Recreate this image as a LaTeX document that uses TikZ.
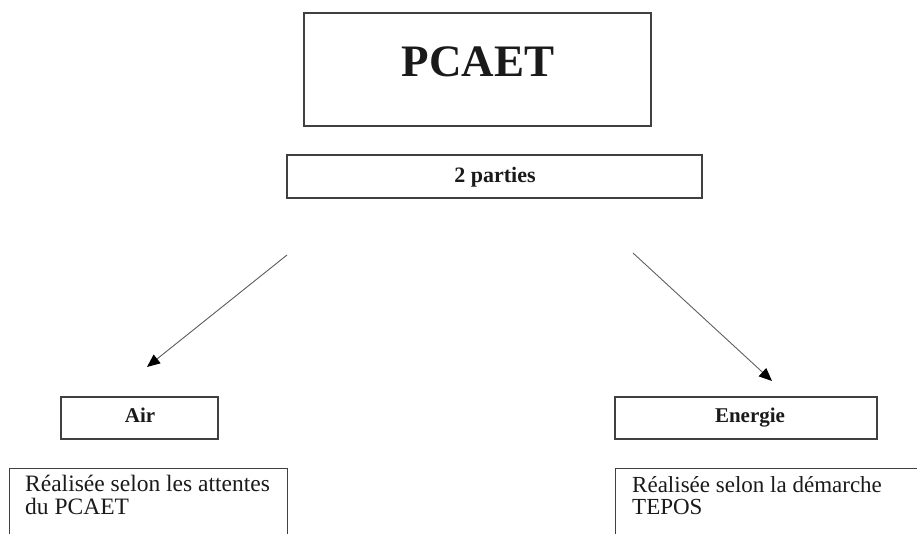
\documentclass[tikz,border=0pt]{standalone}
\usepackage{fontspec}
\setmainfont{Liberation Serif}
\usetikzlibrary{arrows.meta}
\definecolor{boxline}{HTML}{404040}
\definecolor{arrowline}{HTML}{606060}
\definecolor{txt}{HTML}{1A1A1A}
\tikzset{
  box/.style={draw=boxline, line width=1.1pt, fill=white, inner sep=0pt},
  lbl/.style={text=txt, inner sep=0pt},
  conn/.style={draw=arrowline, line width=0.9pt, -{Triangle[length=13pt,width=11pt,color=black]}},
}
\begin{document}
\begin{tikzpicture}[x=1pt,y=-1pt]
\useasboundingbox (0,0) rectangle (917,533);
\fill[white] (0,0) rectangle (917,533);
\clip (0,0) rectangle (917,533);
% top title box
\node[box, minimum width=347pt, minimum height=113pt] (pcaet) at (477.5,69.5) {};
\node[lbl, anchor=base, font=\fontsize{45}{45}\selectfont\bfseries] (pcaetlbl) at (478,76) {PCAET};
% 2 parties
\node[box, minimum width=415pt, minimum height=43pt] (parties) at (494.5,176.5) {};
\node[lbl, anchor=base, font=\fontsize{22}{22}\selectfont\bfseries] (partieslbl) at (495,182) {2 parties};
% arrow endpoints
\coordinate (ls) at (287,255);
\coordinate (le) at (147,367);
\coordinate (rs) at (633,253);
\coordinate (re) at (772,381);
\draw[conn] (ls) -- (le);
\draw[conn] (rs) -- (re);
% Air
\node[box, minimum width=157pt, minimum height=42pt] (air) at (139.5,418) {};
\node[lbl, anchor=base, font=\fontsize{21}{21}\selectfont\bfseries] (airlbl) at (140,422.5) {Air};
% Energie
\node[box, minimum width=262pt, minimum height=42pt] (energie) at (746,418) {};
\node[lbl, anchor=base, font=\fontsize{21}{21}\selectfont\bfseries] (energielbl) at (750,422.5) {Energie};
% description boxes (cut at the bottom)
\node[box, minimum width=278pt, minimum height=110pt, anchor=north west] (airdesc) at (9,468) {};
\node[lbl, anchor=base west, font=\fontsize{23.5}{23}\selectfont] (airdesclbl) at (25,491)
  {\parbox[t]{260pt}{\baselineskip=23pt Réalisée selon les attentes\\du PCAET}};
\node[box, minimum width=330pt, minimum height=110pt, anchor=north west] (endesc) at (615,468) {};
\node[lbl, anchor=base west, font=\fontsize{23}{23}\selectfont] (endesclbl) at (632,492)
  {\parbox[t]{280pt}{\baselineskip=22pt Réalisée selon la démarche\\TEPOS}};
\end{tikzpicture}
\end{document}
